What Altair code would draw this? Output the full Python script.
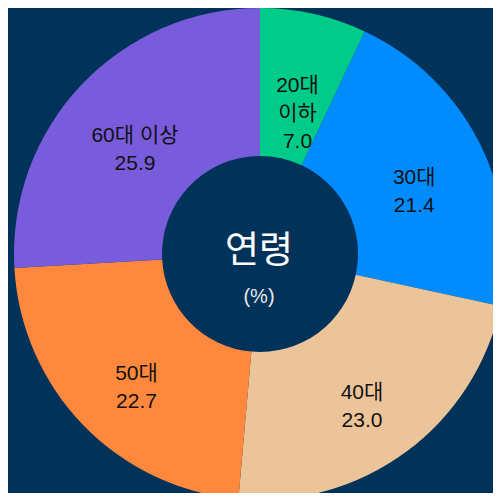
import altair as alt
import pandas as pd

categories = ["20대 이하", "30대", "40대", "50대", "60대 이상"]
labels = ["20대\n이하\n7.0", "30대\n21.4", "40대\n23.0", "50대\n22.7", "60대 이상\n25.9"]
values = [7.0, 21.4, 23.0, 22.7, 25.9]
colors = ["#00CB88", "#008CFF", "#EBC499", "#FF883C", "#785CDC"]

center_title = ["연령"]
center_unit = ["(%)"]

df = pd.DataFrame({
    "category": categories,
    "label": labels,
    "value": values,
    "order": list(range(len(categories))),
})

BG = "#00325A"
FONT = "Liberation Sans, Noto Sans CJK KR, sans-serif"
CX, CY = 252, 246

base = alt.Chart(df).encode(
    theta=alt.Theta("value:Q", stack=True),
    order=alt.Order("order:Q"),
    x=alt.value(CX),
    y=alt.value(CY),
)

arcs = base.mark_arc(outerRadius=246, innerRadius=98, stroke=None).encode(
    color=alt.Color("category:N", scale=alt.Scale(domain=categories, range=colors), legend=None),
)

texts = base.mark_text(
    radius=172, fontSize=21, lineBreak="\n", lineHeight=28,
    font=FONT, color="#111111", align="center", baseline="middle",
).encode(text="label:N")

title_df = pd.DataFrame({"t": center_title})
unit_df = pd.DataFrame({"t": center_unit})

title = alt.Chart(title_df).mark_text(
    fontSize=37, font="Noto Sans CJK KR, sans-serif", fontWeight="normal",
    color="#FFFFFF", align="center", baseline="middle"
).encode(text="t:N", x=alt.value(CX - 1), y=alt.value(CY - 2))

unit = alt.Chart(unit_df).mark_text(
    fontSize=20, font=FONT, color="#E6E8EE", align="center", baseline="middle"
).encode(text="t:N", x=alt.value(CX - 1), y=alt.value(CY + 43))

chart = alt.layer(arcs, texts, title, unit).properties(
    width=485, height=485, padding=0, autosize="none", background=BG,
).configure_view(stroke=None)

chart.save("out.html", embed_options={"renderer": "svg", "actions": False})
